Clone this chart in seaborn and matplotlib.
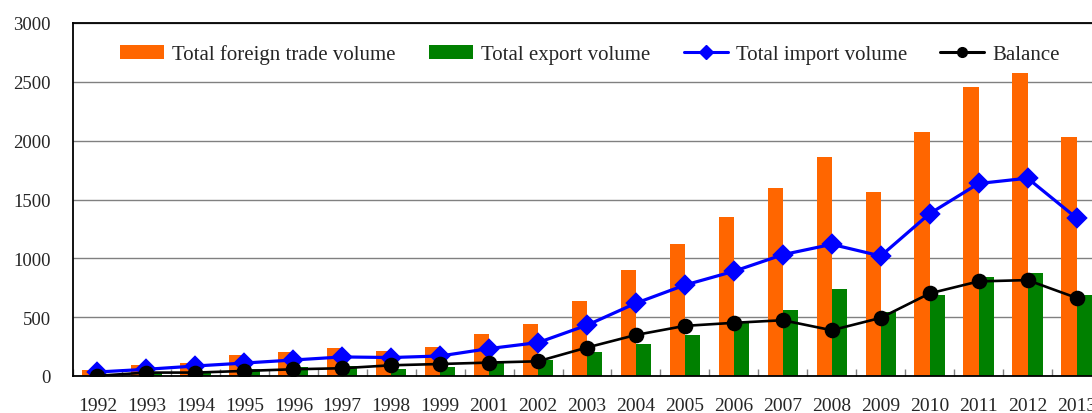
import matplotlib
matplotlib.use("Agg")
import matplotlib.pyplot as plt
import seaborn as sns
import pandas as pd
import numpy as np
from matplotlib.patches import Patch
from matplotlib.lines import Line2D

years = ["1992", "1993", "1994", "1995", "1996", "1997", "1998", "1999", "2001",
         "2002", "2003", "2004", "2005", "2006", "2007", "2008", "2009", "2010",
         "2011", "2012", "2013"]
total_trade = [51, 91, 114, 176, 202, 240, 213, 250, 361, 438, 639, 900, 1122,
               1349, 1596, 1860, 1562, 2070, 2459, 2572, 2033]
total_export = [12, 30, 43, 60, 75, 88, 63, 77, 128, 134, 205, 276, 352,
                455, 565, 738, 540, 690, 841, 877, 690]
total_import = [34, 57, 85, 110, 136, 162, 157, 170, 233, 284, 432, 619, 773,
                890, 1031, 1119, 1020, 1380, 1636, 1681, 1343]
balance = [2, 29, 29, 43, 57, 66, 91, 102, 114, 125, 242, 349, 426,
           452, 474, 389, 494, 702, 804, 815, 664]

labels = ["Total foreign trade volume", "Total export volume",
          "Total import volume", "Balance"]

sns.set_theme(style="white")
plt.rcParams["font.family"] = ["Liberation Serif", "DejaVu Serif"]

bars = pd.DataFrame({
    "year": years * 2,
    "value": total_trade + total_export,
    "series": [labels[0]] * len(years) + [labels[1]] * len(years),
})

fig = plt.figure(figsize=(10.92, 4.14), dpi=100)
ax = fig.add_axes([73 / 1092, 1 - 377 / 414, (1101 - 73) / 1092, (377 - 24) / 414])

sns.barplot(data=bars, x="year", y="value", hue="series", order=years,
            hue_order=labels[:2], palette=["#FF6600", "#008000"],
            width=0.62, saturation=1, errorbar=None, ax=ax, legend=False,
            linewidth=0, zorder=2)

sns.pointplot(x=years, y=total_import, order=years, color="#0000FF",
              markers="D", markersize=9.5, linewidth=2.3, errorbar=None, ax=ax)
sns.pointplot(x=years, y=balance, order=years, color="black",
              markers="o", markersize=9.8, linewidth=1.9, errorbar=None, ax=ax)

ax.set_xlim(-0.5, len(years) - 0.5)
ax.set_ylim(0, 3000)
ax.set_yticks(np.arange(0, 3001, 500))
ax.yaxis.grid(True, color="#808080", linewidth=1)
ax.set_axisbelow(True)
ax.set_xlabel("")
ax.set_ylabel("")

for s in ["left", "top", "bottom", "right"]:
    ax.spines[s].set_color("black")
    ax.spines[s].set_linewidth(1.3)

ax.tick_params(axis="y", length=0, pad=16, labelsize=13.5)
ax.tick_params(axis="x", length=0, pad=15, labelsize=14)
ax.set_xticks(np.arange(-0.5, len(years), 1), minor=True)
ax.tick_params(axis="x", which="minor", direction="in", length=5,
               color="#808080", width=1, bottom=True)

handles = [
    Patch(facecolor="#FF6600", edgecolor="none"),
    Patch(facecolor="#008000", edgecolor="none"),
    Line2D([], [], color="#0000FF", marker="D", markersize=7, linewidth=2.2),
    Line2D([], [], color="black", marker="o", markersize=7, linewidth=2.2),
]
ax.legend(handles, labels, loc="center", bbox_to_anchor=(0.503, 0.912), ncol=4,
          frameon=False, fontsize=15, handlelength=2.1, handleheight=0.65,
          handletextpad=0.4, columnspacing=1.6, borderaxespad=0)

fig.savefig("out.png", dpi=100)
